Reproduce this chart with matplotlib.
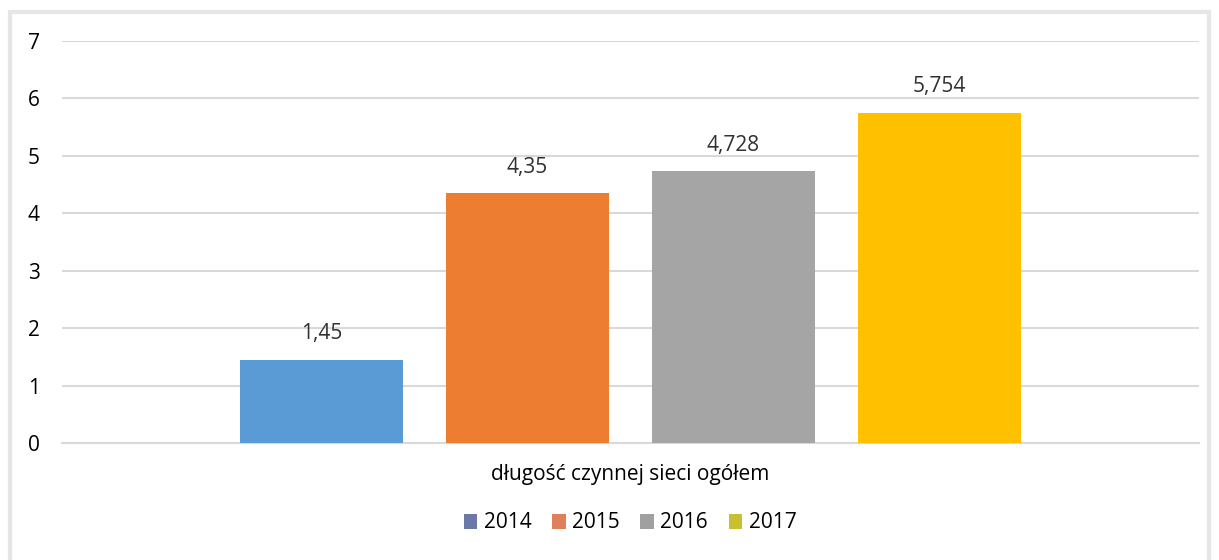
import matplotlib.pyplot as plt
from matplotlib.patches import Rectangle, Patch

category = "długość czynnej sieci ogółem"
years = ["2014", "2015", "2016", "2017"]
values = [1.45, 4.35, 4.728, 5.754]
labels = ["1,45", "4,35", "4,728", "5,754"]
bar_colors = ["#5b9bd5", "#ed7d31", "#a5a5a5", "#ffc000"]
legend_colors = ["#6b78a8", "#e0805a", "#a0a0a0", "#c8c030"]
yticks = [0, 1, 2, 3, 4, 5, 6, 7]

plt.rcParams['font.family'] = ['Open Sans', 'DejaVu Sans']

fig = plt.figure(figsize=(12.19, 5.60), dpi=100)
fig.patches.append(Rectangle((10/1219, -0.01), 1 - 20/1219, 1 - 12/560 + 0.01, transform=fig.transFigure,
                             fill=False, edgecolor="#e6e6e6", linewidth=3))
ax = fig.add_axes([62/1219, 1 - 443/560, (1199-62)/1219, (443-41)/560])

width = 163/1137
step = 206/1137
offsets = [(-1.5 + i) * step for i in range(4)]
for off, v, c, lab in zip(offsets, values, bar_colors, labels):
    ax.bar(off, v, width=width, color=c, zorder=3)
    ax.annotate(lab, (off, v), xytext=(0, 11), textcoords="offset points",
                ha="center", va="bottom", fontsize=15, color="#303030")

ax.set_xlim(-0.5, 0.5)
ax.set_ylim(0, 7)
ax.set_yticks(yticks)
ax.set_yticklabels([str(t) for t in yticks], fontsize=15)
ax.yaxis.grid(True, color="#d9d9d9", linewidth=1.5, zorder=0)
ax.set_xticks([0])
ax.set_xticklabels([category], fontsize=15)
ax.tick_params(axis="both", length=0)
ax.tick_params(axis="y", pad=16)
ax.tick_params(axis="x", pad=15)
for s in ["top", "right", "left"]:
    ax.spines[s].set_visible(False)
ax.spines["bottom"].set_color("#d9d9d9")
ax.spines["bottom"].set_linewidth(1.5)

handles = [Patch(facecolor=c, label=y) for c, y in zip(legend_colors, years)]
fig.legend(handles=handles, loc="center", bbox_to_anchor=(630/1219, 1 - 523/560), ncol=4,
           frameon=False, fontsize=15, handlelength=0.65, handleheight=0.75,
           handletextpad=0.3, columnspacing=1.0)

fig.savefig("out.png", dpi=100, facecolor="white")
